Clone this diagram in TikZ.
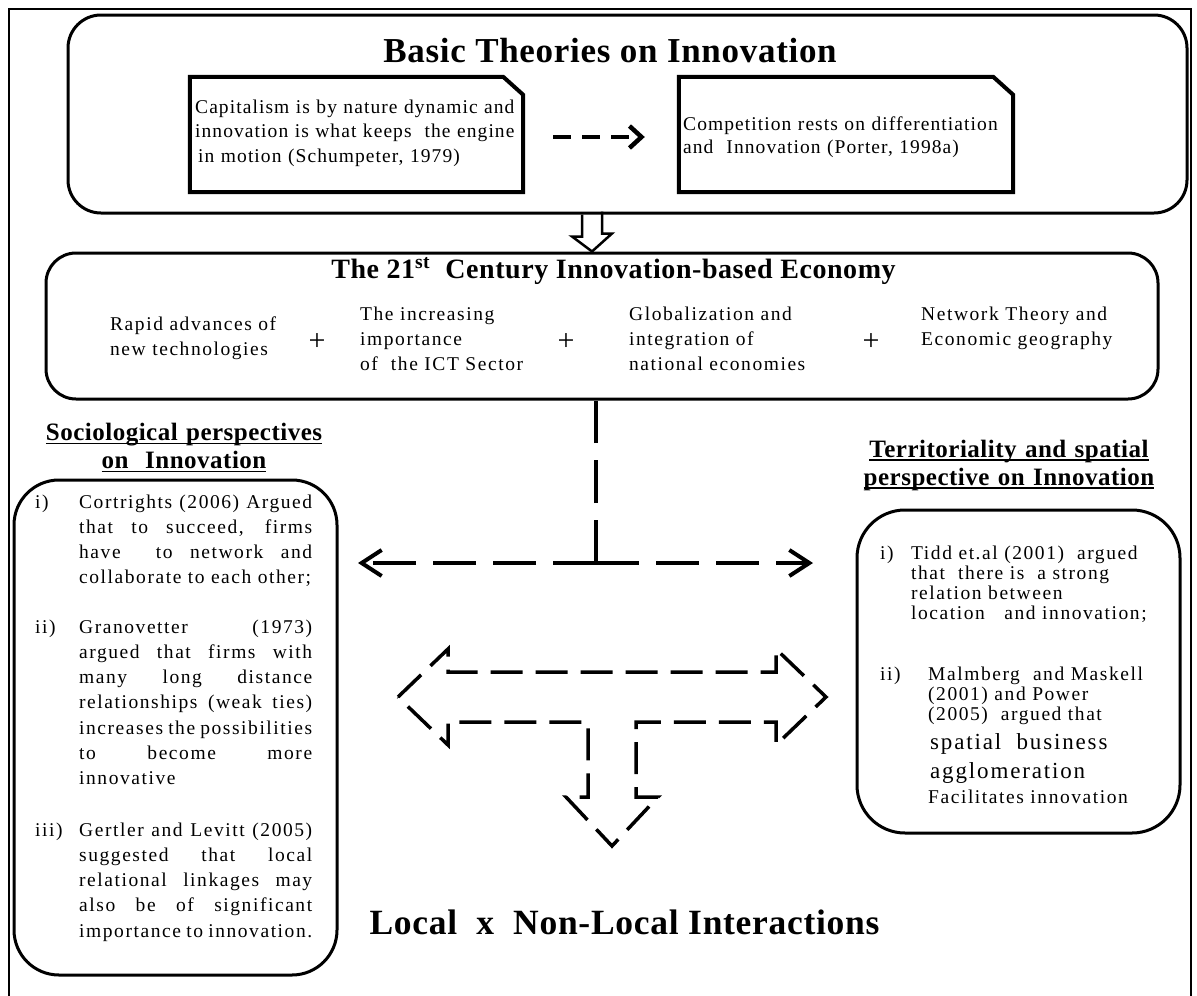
\documentclass[tikz,border=0pt]{standalone}
\usepackage{fontspec}
\setmainfont{Liberation Serif}
\newfontfamily\bodyfont{Liberation Serif}[LetterSpace=8]
\newfontfamily\notefont{Liberation Serif}[LetterSpace=5.5]
\newfontfamily\headfont{Liberation Serif}[LetterSpace=2]
\usetikzlibrary{arrows.meta}

% body text: size, baseline distance, fixed line pitch, no hyphenation
\newcommand\bodytext[2][19.5]{\bodyfont\fontsize{#1}{#2}\selectfont
  \lineskiplimit=-100pt\hyphenpenalty=10000\tolerance=10000\relax}
% text of the two note cards, a little tighter
\newcommand\notetext[1]{\notefont\fontsize{19.5}{#1}\selectfont\lineskiplimit=-100pt\relax}
% bold headings
\newcommand\headtext[2]{\headfont\bfseries\fontsize{#1}{#2}\selectfont\lineskiplimit=-100pt\relax}
% heading underline drawn just under the baseline
\newcommand\undl[1]{\leavevmode\setbox0=\hbox{#1}\rlap{\rule[-3.8pt]{\wd0}{1.8pt}}\box0}

\begin{document}
\begin{tikzpicture}[x=1pt,y=-1pt,
  panel/.style={draw, line width=3pt, rounded corners=#1, inner sep=0pt},
  notearea/.style={inner sep=0pt, minimum height=115pt},
  noteline/.style={line width=4pt, line join=miter},
  txt/.style={anchor=base west, inner sep=0pt, align=left, text width=400pt},
  para/.style={anchor=base west, inner sep=0pt, align=justify, text width=233pt,
    font={\bodytext{25.3}}},
  plus/.style={inner sep=0pt, font=\fontsize{30}{30}\selectfont},
  hollow/.style={line width=2.5pt, line join=miter},
  shortdash/.style={line width=4.5pt, dash pattern=on 18pt off 11pt},
  tline/.style={line width=4pt, dash pattern=on 43pt off 17pt},
  blockdash/.style={line width=3.5pt, dash pattern=on 32pt off 13pt, line join=miter},
]
\useasboundingbox (0,0) rectangle (1197,996);

% outer frame
\draw[line width=2.5pt] (9,1000) -- (9,9) -- (1191,9) -- (1191,1000);

% ---------- basic theories ----------
\node[panel=33pt, minimum width=1119pt, minimum height=198pt] (topbox) at (627.5,114) {};
\node[anchor=base, inner sep=0pt, font={\headtext{35}{40}}] (ttl1) at (610,62)
  {Basic Theories on Innovation};

% note cards with a cut upper right corner
\node[notearea, minimum width=333pt] (note1) at (356.5,134.5) {};
\node[notearea, minimum width=334pt] (note2) at (846,134.5) {};
\foreach \n in {note1,note2}
  \draw[noteline] (\n.south west) -- (\n.north west) -- ([xshift=-20pt]\n.north east)
    -- ([yshift=-18pt]\n.north east) -- (\n.south east) -- cycle;
\node[txt, font={\notetext{24.5}}] (n1txt) at (195,113)
  {Capitalism is by nature dynamic and\\
   innovation is what keeps~ the engine\\
   \hspace*{3pt}in motion (Schumpeter, 1979)};
\node[txt, font={\notetext{23}}] (n2txt) at (683,130)
  {Competition rests on differentiation\\
   and~ Innovation (Porter, 1998a)};
\draw[shortdash, -{Straight Barb[length=12pt,width=22pt]}, shorten <=30pt, shorten >=34pt]
  ([yshift=-2.5pt]note1.east) -- ([yshift=-2.5pt]note2.west);

% ---------- economy ----------
\node[panel=30pt, minimum width=1112pt, minimum height=146pt] (econbox) at (602,326) {};

\coordinate (hx) at (592,0);
\path (topbox.south -| hx) coordinate (h0) (econbox.north -| hx) coordinate (h1);
\draw[hollow] (h0) ++(-10,0) -- ++(0,22) -- ++(-10,0) -- (h1) -- ++(20,-18) -- ++(-10,0) -- ++(0,-22);

\node[anchor=base, inner sep=0pt, font={\headtext{28}{32}}] (ttl2) at (613.5,278)
  {The 21\textsuperscript{st}~ Century Innovation-based Economy};

\node[txt, font={\bodytext{25}}] (it1) at (110,330)
  {Rapid advances of\\new technologies};
\node[txt, font={\bodytext{25}}] (it2) at (360,320)
  {The increasing\\importance\\of~ the ICT Sector};
\node[txt, font={\bodytext{25}}] (it3) at (629,320)
  {Globalization and\\integration of\\national economies};
\node[txt, font={\bodytext{25}}] (it4) at (921,320)
  {Network Theory and\\Economic geography};
\node[plus] (p1) at (317,342) {+};
\node[plus] (p2) at (566,342) {+};
\node[plus] (p3) at (871,342) {+};

% ---------- split connector ----------
\coordinate (jn) at (596,563);
\coordinate (ltip) at (358,563);
\coordinate (rtip) at (813,563);
\draw[tline] (jn) -- (jn |- econbox.south);
\draw[tline, -{Straight Barb[length=20pt,width=26pt]}] (jn) -- (ltip);
\draw[tline, -{Straight Barb[length=20pt,width=26pt]}] (jn) -- (rtip);

% ---------- sociological side ----------
\node[anchor=base, inner sep=0pt, align=center, text width=320pt, font={\headtext{25}{28}}] (soch) at (184,440.5)
  {\undl{Sociological perspectives}\\\undl{on~ Innovation}};
\node[panel=45pt, minimum width=323pt, minimum height=495pt] (socbox) at (175.5,727.5) {};

\node[txt, font={\bodytext{25.3}}] (sl1) at (35,508) {i)};
\node[para] (sp1) at (79,508)
  {Cortrights (2006) Argued\linebreak
   that to succeed, firms\linebreak
   have~ to network and\linebreak
   collaborate to each other;};
\node[txt, font={\bodytext{25.3}}] (sl2) at (35,633) {ii)};
\node[para] (sp2) at (79,633)
  {Granovetter (1973)\linebreak
   argued that firms with\linebreak
   many long distance\linebreak
   relationships (weak ties)\linebreak
   increases the possibilities\linebreak
   to become more\linebreak
   innovative};
\node[txt, font={\bodytext{25.3}}] (sl3) at (35,836) {iii)};
\node[para] (sp3) at (79,836)
  {Gertler and Levitt (2005)\linebreak
   suggested that local\linebreak
   relational linkages may\linebreak
   also be of significant\linebreak
   importance to innovation.};

% ---------- territorial side ----------
\node[anchor=base, inner sep=0pt, align=center, text width=320pt, font={\headtext{25}{28}}] (terh) at (1009,457)
  {\undl{Territoriality and spatial}\\\undl{perspective on Innovation}};
\node[panel=48pt, minimum width=323pt, minimum height=323pt] (terbox) at (1018.5,671.5) {};

\node[txt, font={\bodytext{20.3}}] (tl1) at (880,559) {i)};
\node[txt, font={\bodytext{20.3}}] (tp1) at (911,559)
  {Tidd et.al (2001)~ argued\\
   that~ there is~ a strong\\
   relation between\\
   location~~ and innovation;};
\node[txt, font={\bodytext{20.3}}] (tl2) at (880,680) {ii)};
\node[txt, font={\bodytext{20.3}}] (tp2) at (928,680)
  {Malmberg~ and Maskell\\
   (2001) and Power\\
   (2005)~ argued that};
\node[txt, font={\bodytext[23]{29}}] (tp3) at (930,749)
  {spatial~ business\\agglomeration};
\node[txt, font={\bodytext{20}}] (tp4) at (928,803) {Facilitates innovation};

% ---------- three-way block arrow ----------
\draw[blockdash] (398,697) -- (448,649) -- (448,672) -- (776,672) -- (776,649)
  -- (826,697) -- (776,745) -- (776,722) -- (636,722) -- (636,797) -- (658,797)
  -- (612,846) -- (566,797) -- (588,797) -- (588,722) -- (448,722) -- (448,745) -- cycle;

\node[anchor=base, inner sep=0pt, font={\headtext{35.5}{40}}] (local) at (624.5,934)
  {Local~ x~ Non-Local Interactions};
\end{tikzpicture}
\end{document}
